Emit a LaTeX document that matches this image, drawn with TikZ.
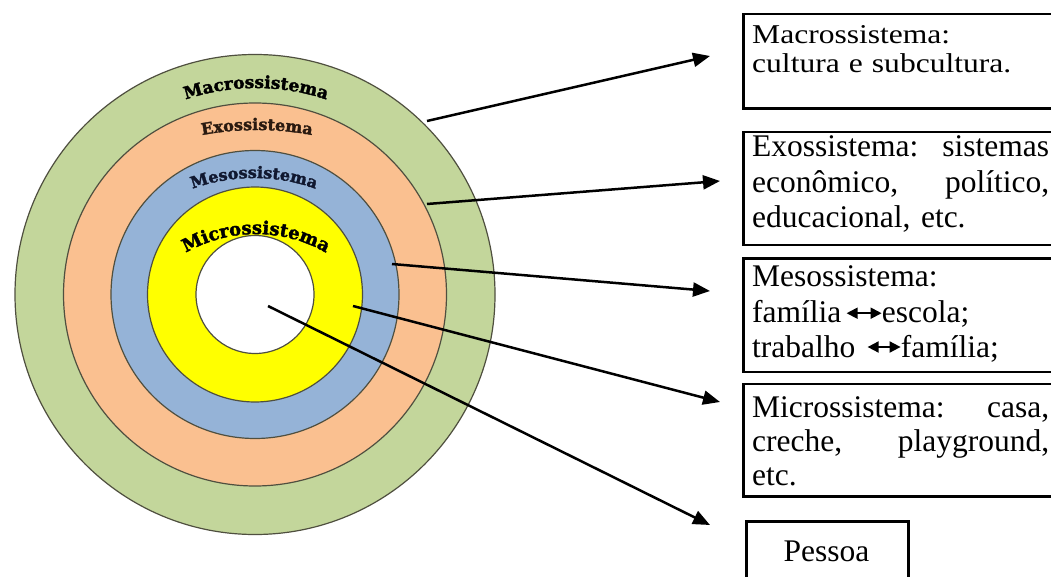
\documentclass[tikz,border=0pt]{standalone}
\usepackage{fontspec}
\setmainfont{Liberation Serif}
\newfontfamily\ringfont[FakeBold=2]{DejaVu Serif}
\newfontfamily\squashfont[FakeStretch=1.16]{Liberation Serif}
\usetikzlibrary{arrows.meta,decorations.text,calc}
\definecolor{macroc}{HTML}{C3D69B}
\definecolor{exoc}{HTML}{FAC090}
\definecolor{mesoc}{HTML}{95B3D7}
\definecolor{microc}{HTML}{FFFF00}
\definecolor{ringline}{HTML}{4F4F3F}
\definecolor{exotext}{HTML}{2A1A10}
\definecolor{mesotext}{HTML}{101830}
\newcommand{\boxf}{\fontsize{31.5}{35}\selectfont}
\begin{document}
\begin{tikzpicture}[x=1pt,y=-1pt,
  ring/.style={circle, draw=ringline, line width=1.2pt, inner sep=0pt, minimum size=#1},
  arclabel/.style={decorate, decoration={text along path, text align=center, text={#1}}},
  boxframe/.style={draw, line width=2.5pt, rectangle, inner sep=0pt, anchor=north west},
  boxtext/.style={anchor=base west, inner sep=0pt, text width=297pt, align=left},
  word/.style={anchor=base west, inner sep=0pt, font=\boxf},
  pointer/.style={line width=2.5pt, -{Triangle[length=17pt,width=14pt]}},
  dbl/.style={line width=1.8pt, {Triangle[length=11pt,width=11pt]}-{Triangle[length=11pt,width=11pt]}},
]
\useasboundingbox (0,0) rectangle (1051,577);
\clip (0,0) rectangle (1051,577);
\fill[white] (0,0) rectangle (1051,577);

% rings
\coordinate (c) at (255,294.5);
\node[ring=480pt, fill=macroc] (macro) at (c) {};
\node[ring=383pt, fill=exoc] (exo) at (c) {};
\node[ring=288pt, fill=mesoc] (meso) at (c) {};
\node[ring=215pt, fill=microc] (micro) at (c) {};
\node[ring=118pt, fill=white] (person) at (c) {};

% curved labels
\coordinate (cmac) at (256,308);
\coordinate (cexo) at (257,430);
\coordinate (cmes) at (254,358);
\coordinate (cmic) at (256,374);
\path[arclabel={|\ringfont\bfseries\fontsize{17}{17}\selectfont|Macrossistema}]
  ([shift={(125:220pt)}]cmac) arc[start angle=125, end angle=55, radius=220pt];
\path[arclabel={|\ringfont\bfseries\fontsize{16}{16}\selectfont\color{exotext}|Exossistema}]
  ([shift={(115:300pt)}]cexo) arc[start angle=115, end angle=65, radius=300pt];
\path[arclabel={|\ringfont\bfseries\fontsize{16}{16}\selectfont\color{mesotext}|Mesossistema}]
  ([shift={(130:180pt)}]cmes) arc[start angle=130, end angle=50, radius=180pt];
\path[arclabel={|\ringfont\bfseries\fontsize{18}{18}\selectfont|Microssistema}]
  ([shift={(140:140pt)}]cmic) arc[start angle=140, end angle=40, radius=140pt];

% boxes
\node[boxframe, minimum width=330pt, minimum height=94.3pt] (macrobox) at (742,13) {};
\node[boxframe, minimum width=330pt, minimum height=113pt] (exobox) at (742,131) {};
\node[boxframe, minimum width=330pt, minimum height=113.4pt] (mesobox) at (742,257.3) {};
\node[boxframe, minimum width=330pt, minimum height=112.3pt] (microbox) at (742,382.7) {};
\node[boxframe, minimum width=162pt, minimum height=80pt] (pessoabox) at (745,520) {};

% box texts
\node[boxtext, font=\squashfont\fontsize{27.2}{29.4}\selectfont] (macrot) at (752,43.3)
  {Macrossistema:\\cultura e subcultura.};
\node[boxtext, font=\fontsize{31.5}{35.5}\selectfont] (exot) at (752,157)
  {Exossistema:\hfill sistemas\\econômico,\hfill político,\\educacional, etc.};
\node[word] (mesot) at (752,286) {Mesossistema:};
\node[word] (fam1) at (752,322.7) {família};
\node[word] (esc) at ($(fam1.base east)+(40,0)$) {escola;};
\draw[dbl] ($(fam1.base east)+(5,-9.5)$) -- ($(esc.base west)+(0,-9.5)$);
\node[word] (trab) at (752,357) {trabalho};
\node[word] (fam2) at ($(trab.base east)+(45,0)$) {família;};
\draw[dbl] ($(trab.base east)+(12,-10)$) -- ($(fam2.base west)+(0,-10)$);
\node[boxtext, font=\fontsize{31.5}{34}\selectfont] (microt) at (752,417.7)
  {Microssistema:\hfill casa,\\creche,\hfill playground,\\etc.};
\node[anchor=base, inner sep=0pt, font=\boxf] (pessoat) at (826.5,561.7) {Pessoa};

% pointers
\coordinate (s1) at (427,121);   \coordinate (e1) at (710,56);
\coordinate (s2) at (427,204);   \coordinate (e2) at (720,181);
\coordinate (s3) at (392,264);   \coordinate (e3) at (710,291);
\coordinate (s4) at (353,306);   \coordinate (e4) at (720,402);
\coordinate (s5) at (268,306);   \coordinate (e5) at (710,525);
\draw[pointer] (s1) -- (e1);
\draw[pointer] (s2) -- (e2);
\draw[pointer] (s3) -- (e3);
\draw[pointer] (s4) -- (e4);
\draw[pointer] (s5) -- (e5);
\end{tikzpicture}
\end{document}
